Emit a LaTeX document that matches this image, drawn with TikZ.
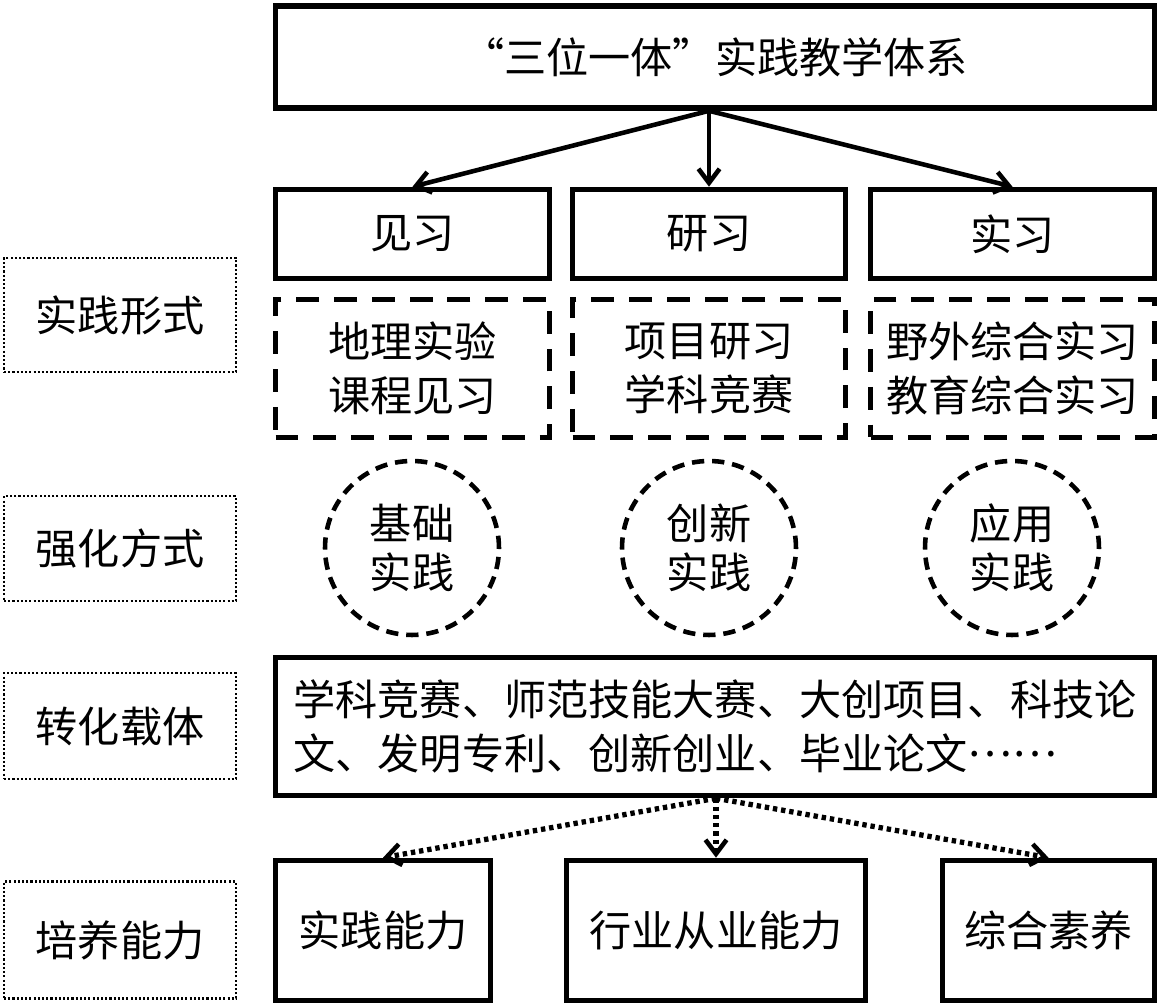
\documentclass[tikz,border=0pt]{standalone}
\usepackage{fontspec}
\newfontfamily\cjk{Noto Sans CJK SC}
\usetikzlibrary{arrows.meta}

\begin{document}
\begin{tikzpicture}[x=0.02cm, y=-0.02cm,
	every node/.style={font=\cjk\fontsize{24}{31}\selectfont, inner sep=0pt},
	solidbox/.style={rectangle, draw, line width=3.2pt},
	dashbox/.style={rectangle, draw, line width=3.2pt, dash pattern=on 13pt off 8.5pt, align=center, minimum height=2.76cm},
	ring/.style={circle, draw, line width=2.6pt, dash pattern=on 7pt off 4.5pt, minimum size=3.48cm, align=center, font=\cjk\fontsize{24}{28}\selectfont},
	tagbox/.style={rectangle, draw, line width=1.5pt, dash pattern=on 1.2pt off 1.2pt, minimum width=4.64cm},
	arr/.style={line width=2.6pt, -{Straight Barb[length=8pt,width=12pt,line width=2.6pt]}},
	dotarr/.style={line width=3pt, dash pattern=on 2.5pt off 2.2pt, -{Straight Barb[length=8pt,width=12pt,line width=2.6pt]}}]

	\useasboundingbox (0,0) rectangle (1161,1006);

	% top
	\node [solidbox, minimum width=17.58cm, minimum height=2.04cm] (sys) at (715,57) {“三位一体”实践教学体系};

	\node [solidbox, minimum width=5.48cm, minimum height=1.78cm] (jian) at (412.5,234) {见习};
	\node [solidbox, minimum width=5.46cm, minimum height=1.78cm] (yan) at (709,234) {研习};
	\node [solidbox, minimum width=5.68cm, minimum height=1.78cm] (shi) at (1012.5,234) {实习};

	\draw [arr] (sys.south -| yan.north) -- (jian.north);
	\draw [arr] (sys.south -| yan.north) -- (yan.north);
	\draw [arr] (sys.south -| yan.north) -- (shi.north);

	% left labels
	\node [tagbox, minimum height=2.28cm] (xingshi) at (120,315) {实践形式};
	\node [tagbox, minimum height=2.10cm] (fangshi) at (120,548.5) {强化方式};
	\node [tagbox, minimum height=2.12cm] (zaiti) at (120,726) {转化载体};
	\node [tagbox, minimum height=2.34cm] (nengli) at (120,940) {培养能力};

	% forms
	\node [dashbox, minimum width=5.48cm] (f1) at (412.5,368.5) {地理实验\\课程见习};
	\node [dashbox, minimum width=5.46cm] (f2) at (709,368.5) {项目研习\\学科竞赛};
	\node [dashbox, minimum width=5.68cm] (f3) at (1012.5,368.5) {野外综合实习\\教育综合实习};

	\node [ring] (r1) at (412,548) {基础\\实践};
	\node [ring] (r2) at (709,548) {创新\\实践};
	\node [ring] (r3) at (1012,548) {应用\\实践};

	\node [solidbox, minimum width=17.58cm, minimum height=2.76cm, align=left] (carrier) at (715,726.5) {学科竞赛、师范技能大赛、大创项目、科技论\\文、发明专利、创新创业、毕业论文\raisebox{0.32em}{……}};

	% abilities
	\node [solidbox, minimum width=4.30cm, minimum height=2.80cm] (a1) at (383,930.5) {实践能力};
	\node [solidbox, minimum width=5.98cm, minimum height=2.80cm] (a2) at (716,930.5) {行业从业能力};
	\node [solidbox, minimum width=4.24cm, minimum height=2.80cm] (a3) at (1048.5,930.5) {综合素养};

	\draw [dotarr] (carrier.south -| a2.north) -- (a1.north);
	\draw [dotarr] (carrier.south -| a2.north) -- (a2.north);
	\draw [dotarr] (carrier.south -| a2.north) -- (a3.north);

\end{tikzpicture}
\end{document}
